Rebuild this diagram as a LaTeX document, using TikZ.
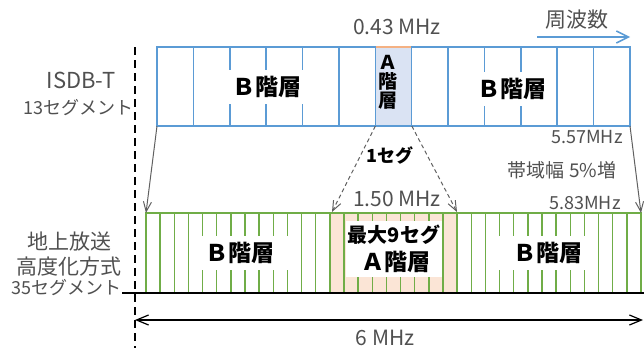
\documentclass[tikz,border=0pt]{standalone}
\usepackage{fontspec}
\setmainfont{Noto Sans CJK JP}
\usetikzlibrary{arrows.meta,positioning}
\definecolor{segblue}{HTML}{5B9BD5}
\definecolor{seggreen}{HTML}{70AD47}
\definecolor{segAblue}{HTML}{DAE3F3}
\definecolor{segAorange}{HTML}{FBE5D6}
\definecolor{segAline}{HTML}{F4B183}
\definecolor{txtgray}{HTML}{505050}
\definecolor{arrgray}{HTML}{606060}
\newcommand{\fs}[1]{\fontsize{#1}{#1}\selectfont}

\begin{document}
\begin{tikzpicture}[x=0.5pt, y=-0.5pt,
    lbl/.style={text=txtgray, inner sep=0pt},
    layer/.style={fill=white, font=\fs{11.5}\bfseries, inner ysep=3pt, inner xsep=2pt},
    feed/.style={draw=arrgray, line width=0.5pt, -{Straight Barb[length=5pt, width=4pt]}},
    feeddash/.style={feed, dashed, dash pattern=on 2pt off 1.5pt}
]
    \useasboundingbox (0,0) rectangle (644,348);

    % corners of the two bands
    \coordinate (topSW) at (157,126);
    \coordinate (topSE) at (630,126);
    \coordinate (segASW) at (375.4,126);
    \coordinate (segASE) at (411.8,126);
    \coordinate (botNW) at (146,213);
    \coordinate (botNE) at (641,213);
    \coordinate (layANW) at (332,212);
    \coordinate (layANE) at (457,212);

    % ISDB-T, 13 segments
    \fill[segAblue] (375.4,47) rectangle (411.8,126);
    \foreach \k in {1,...,12}
        \draw[segblue, line width=0.75pt] ({157+\k*36.385},47) -- ({157+\k*36.385},126);
    \draw[segblue, line width=0.75pt] (157,47) rectangle (630,126);
    \draw[segAline, line width=0.6pt] (375.8,47) -- (411.4,47);

    % advanced system, 35 segments
    \fill[segAorange] (330,213) rectangle (457.3,293);
    \foreach \k in {1,...,34}
        \draw[seggreen, line width=0.75pt] ({146+\k*14.143},213) -- ({146+\k*14.143},293);
    \draw[seggreen, line width=0.75pt] (146,213) rectangle (641,293);
    \draw[black, line width=1pt] (122,293) -- (644,293);

    % left reference line
    \draw[black, line width=0.75pt, dash pattern=on 4pt off 2.5pt] (135,47) -- (135,348);

    % layer labels
    \node[layer, minimum width=38pt] (topBl) at (267,87) {Ｂ階層};
    \node[layer, minimum width=40pt] (topBr) at (512,89) {Ｂ階層};
    \node[font=\fs{9.5}\bfseries, align=center, inner sep=0pt] (topA) at (388,82)
        {\baselineskip=10.5pt Ａ\\階\\層};
    \node[layer, minimum width=50pt, minimum height=16pt] (botBl) at (240,253) {Ｂ階層};
    \node[layer, minimum width=50pt, minimum height=16pt] (botBr) at (548,253) {Ｂ階層};
    \node[fill=white, inner xsep=1pt, inner ysep=2pt, align=center] (botA) at (394,249)
        {{\fs{10}\bfseries 最大9セグ}\\[2pt]{\fs{11.5}\bfseries \,Ａ階層}};

    % left side labels
    \node[lbl, font=\fs{11}] (isdb) at (81,80) {ISDB-T};
    \node[lbl, font=\fs{9}, anchor=east] (seg13) at (134,108) {13セグメント};
    \node[lbl, font=\fs{10.5}] (chijo) at (69,242) {地上放送};
    \node[lbl, font=\fs{10.5}] (kodo) at (69,267) {高度化方式};
    \node[lbl, font=\fs{9}, anchor=east] (seg35) at (122,288) {35セグメント};

    % frequency labels
    \node[lbl, font=\fs{10.5}] (bwA) at (397,27) {0.43 MHz};
    \node[lbl, font=\fs{10.5}] (freq) at (577,20) {周波数};
    \coordinate (freqW) at (537,37);
    \coordinate (freqE) at (630,37);
    \draw[segblue, line width=0.75pt, -{Straight Barb[length=6pt, width=6pt]}] (freqW) -- (freqE);
    \node[lbl, font=\fs{9}] (bwTop) at (587,137) {5.57MHz};
    \node[font=\fs{9}\bfseries, inner sep=0pt] (oneseg) at (390,155) {1セグ};
    \node[lbl, font=\fs{9.5}] (inc) at (562,170) {帯域幅 5\%増};
    \node[lbl, font=\fs{10.5}] (bwB) at (397,199) {1.50 MHz};
    \node[lbl, font=\fs{9}] (bwBot) at (585,203) {5.83MHz};

    % mapping of the bands
    \draw[feed] (topSW) -- (botNW);
    \draw[feed] (topSE) -- (botNE);
    \draw[feeddash] (segASW) -- (layANW);
    \draw[feeddash] (segASE) -- (layANE);

    % 6 MHz
    \coordinate (sixW) at (135,320);
    \coordinate (sixE) at (643,320);
    \draw[black, line width=0.6pt, {Straight Barb[length=6pt, width=5pt]}-{Straight Barb[length=6pt, width=5pt]}] (sixW) -- (sixE);
    \node[lbl, font=\fs{10.5}] (six) at (385,338) {6 MHz};
\end{tikzpicture}
\end{document}
